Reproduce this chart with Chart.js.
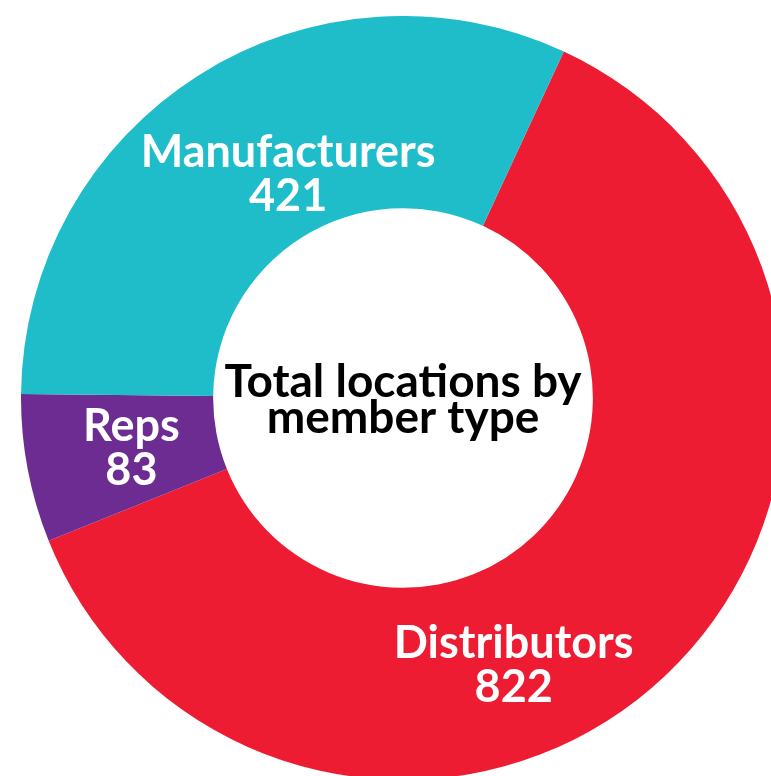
<!DOCTYPE html>
<html>
<head>
<meta charset="utf-8">
<script src="https://cdn.jsdelivr.net/npm/chart.js@4"></script>
<style>
  html, body { margin: 0; padding: 0; background: #ffffff; overflow: hidden; width: 771px; height: 776px; }
  #wrap { position: absolute; left: 21px; top: 16px; width: 764px; height: 764px; }
</style>
</head>
<body>
<div id="wrap"><canvas id="c" width="764" height="764"></canvas></div>
<script>
// ---- data ----
const categories = ["Distributors", "Reps", "Manufacturers"];
const locations = [822, 83, 421];
const centerTitle = ["Total locations by", "member type"];

// ---- styles ----
const sliceColors = ["#ED1C32", "#6C2C91", "#1FBDCA"];
// label placement: angle (deg, clockwise from top) and radius (px) from chart centre
const labelPlacement = [
  { angle: 157.4, radius: 288 },
  { angle: 259.7, radius: 276 },
  { angle: 333.0, radius: 253 }
];

const labelPlugin = {
  id: 'labels',
  afterDraw(chart) {
    const ctx = chart.ctx;
    const meta = chart.getDatasetMeta(0);
    const arc0 = meta.data[0];
    const cx = arc0.x, cy = arc0.y;
    ctx.save();
    ctx.textAlign = 'center';
    ctx.textBaseline = 'alphabetic';
    // centre title
    ctx.fillStyle = '#000000';
    ctx.font = 'bold 46px Lato';
    ctx.fillText(centerTitle[0], cx, cy - 1);
    ctx.fillText(centerTitle[1], cx, cy + 35);
    // slice labels
    ctx.fillStyle = '#ffffff';
    ctx.font = 'bold 45px Lato';
    const ds = chart.data.datasets[0];
    chart.data.labels.forEach((lab, i) => {
      const p = labelPlacement[i];
      const a = p.angle * Math.PI / 180;
      const x = cx + p.radius * Math.sin(a);
      const y = cy - p.radius * Math.cos(a);
      const capH = 32;
      const lineGap = 44;
      const top = y - (capH + lineGap) / 2;
      ctx.fillText(lab, x, top + capH);
      ctx.fillText(String(ds.data[i]), x, top + capH + lineGap);
    });
    ctx.restore();
  }
};

new Chart(document.getElementById('c'), {
  type: 'doughnut',
  data: {
    labels: categories,
    datasets: [{
      data: locations,
      backgroundColor: sliceColors,
      borderWidth: 0
    }]
  },
  options: {
    responsive: false,
    animation: false,
    rotation: 24.9,
    cutout: '49.7%',
    layout: { padding: 0 },
    plugins: { legend: { display: false }, tooltip: { enabled: false } }
  },
  plugins: [labelPlugin]
});
</script>
</body>
</html>
